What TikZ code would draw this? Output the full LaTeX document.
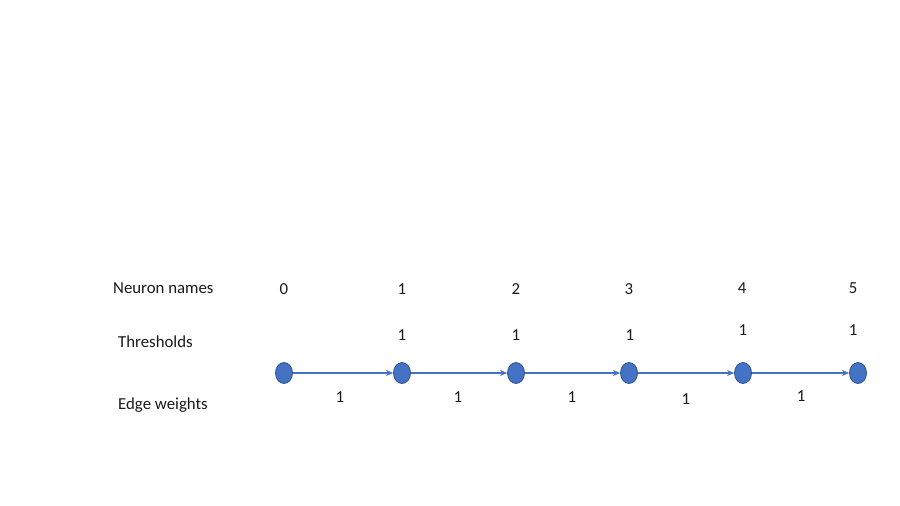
\documentclass[tikz,border=0pt]{standalone}
\usepackage{fontspec}
\setmainfont{Carlito}
\usetikzlibrary{shapes.geometric,arrows.meta}
\definecolor{nfill}{HTML}{4472C4}
\definecolor{nline}{HTML}{2F528F}
\definecolor{eline}{HTML}{4472C4}
\definecolor{txt}{HTML}{1A1A1A}
\begin{document}
\begin{tikzpicture}[x=1pt,y=-1pt,
  neuron/.style={ellipse,draw=nline,fill=nfill,line width=0.8pt,minimum width=17pt,minimum height=21pt,inner sep=0pt},
  lbl/.style={font=\fontsize{16.8}{20}\selectfont,text=txt,inner sep=0pt},
  rowlbl/.style={lbl,anchor=west},
  edgearrow/.style={draw=eline,line width=1.1pt,-{Stealth[length=7pt,width=6pt]}}]
\useasboundingbox (0,0) rectangle (900,506);
\fill[white] (0,0) rectangle (900,506);
% row labels
\node[rowlbl] (rn) at (113,288) {Neuron names};
\node[rowlbl] (rt) at (118,342) {Thresholds};
\node[rowlbl] (re) at (118,405) {Edge weights};
% neurons
\node[neuron] (n0) at (284,373) {};
\node[neuron] (n1) at (402,373) {};
\node[neuron] (n2) at (516,373) {};
\node[neuron] (n3) at (629,373) {};
\node[neuron] (n4) at (743,373) {};
\node[neuron] (n5) at (858,373) {};
% names
\node[lbl] (m0) at (284,289) {0};
\node[lbl] (m1) at (402,289) {1};
\node[lbl] (m2) at (516,289) {2};
\node[lbl] (m3) at (629,289) {3};
\node[lbl] (m4) at (742,288) {4};
\node[lbl] (m5) at (853,288) {5};
% thresholds
\node[lbl] (t1) at (402,335) {1};
\node[lbl] (t2) at (516,335) {1};
\node[lbl] (t3) at (630,335) {1};
\node[lbl] (t4) at (743,330) {1};
\node[lbl] (t5) at (853,330) {1};
% edges
\draw[edgearrow] (n0) -- (n1);
\draw[edgearrow] (n1) -- (n2);
\draw[edgearrow] (n2) -- (n3);
\draw[edgearrow] (n3) -- (n4);
\draw[edgearrow] (n4) -- (n5);
% weights
\node[lbl] (w1) at (340,397) {1};
\node[lbl] (w2) at (458,397) {1};
\node[lbl] (w3) at (572,397) {1};
\node[lbl] (w4) at (686,399) {1};
\node[lbl] (w5) at (801,396) {1};
\end{tikzpicture}
\end{document}
